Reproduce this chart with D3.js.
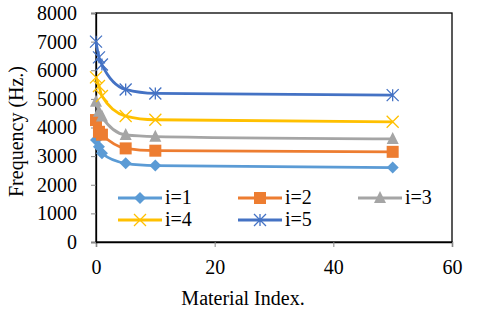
<!DOCTYPE html>
<html><head><meta charset="utf-8">
<script src="https://cdn.jsdelivr.net/npm/d3@7"></script>
<style>body{margin:0;background:#fff;} svg{display:block;} svg text{font-family:"Liberation Serif","Times New Roman",serif;font-size:20px;fill:#000;}</style>
</head><body>
<script>
const xValues = [0, 0.5, 1, 5, 10, 50];
const seriesNames = ["i=1", "i=2", "i=3", "i=4", "i=5"];
const i1 = [3560, 3330, 3100, 2750, 2670, 2600];
const i2 = [4260, 3850, 3750, 3270, 3190, 3150];
const i3 = [4900, 4550, 4380, 3740, 3680, 3600];
const i4 = [5750, 5450, 5100, 4400, 4270, 4200];
const i5 = [7000, 6450, 6200, 5330, 5190, 5130];
const xTicks = [0, 20, 40, 60];
const yTicks = [0, 1000, 2000, 3000, 4000, 5000, 6000, 7000, 8000];
const colors = ["#5B9BD5", "#ED7D31", "#A5A5A5", "#FFC000", "#4472C4"];
const markers = ["diamond", "square", "triangle", "x", "star"];
const allSeries = [i1, i2, i3, i4, i5];

const W = 480, H = 311;
const m = {left: 96, right: 28, top: 13, bottom: 69};
const svg = d3.select("body").append("svg").attr("width", W).attr("height", H);
const x = d3.scaleLinear().domain([0, 60]).range([m.left, W - m.right]);
const y = d3.scaleLinear().domain([0, 8000]).range([H - m.bottom, m.top]);

svg.append("rect").attr("x", x(0)).attr("y", y(8000)).attr("width", x(60) - x(0)).attr("height", y(0) - y(8000))
  .attr("fill", "none").attr("stroke", "#000").attr("stroke-width", 1.3);

const xAxis = svg.append("g").attr("transform", `translate(0,${y(0)})`)
  .call(d3.axisBottom(x).tickValues(xTicks).tickSize(5).tickPadding(13).tickFormat(d3.format("d")));
const yAxis = svg.append("g").attr("transform", `translate(${x(0)},0)`)
  .call(d3.axisLeft(y).tickValues(yTicks).tickSize(5).tickPadding(14).tickFormat(d3.format("d")));
[xAxis, yAxis].forEach(g => {
  g.attr("font-family", null).attr("font-size", null);
  g.select(".domain").attr("stroke", "#000").attr("stroke-width", 1.3);
  g.selectAll(".tick line").attr("stroke", "#888").attr("stroke-width", 1);
});

svg.append("text").attr("x", 243).attr("y", 305).attr("text-anchor", "middle").text("Material Index.");
svg.append("text").attr("transform", `translate(23,${(y(0) + y(8000)) / 2 + 4}) rotate(-90)`)
  .attr("text-anchor", "middle").text("Frequency (Hz.)");

function drawMarker(g, type, cx, cy, color) {
  const s = 6;
  if (type === "diamond") {
    g.append("path").attr("d", `M${cx},${cy - s} L${cx + s},${cy} L${cx},${cy + s} L${cx - s},${cy} Z`).attr("fill", color);
  } else if (type === "square") {
    g.append("rect").attr("x", cx - s).attr("y", cy - s).attr("width", 2 * s).attr("height", 2 * s).attr("fill", color);
  } else if (type === "triangle") {
    g.append("path").attr("d", `M${cx},${cy - s - 1} L${cx + s},${cy + s - 1} L${cx - s},${cy + s - 1} Z`).attr("fill", color);
  } else if (type === "x") {
    g.append("path").attr("d", `M${cx - s},${cy - s} L${cx + s},${cy + s} M${cx + s},${cy - s} L${cx - s},${cy + s}`)
      .attr("stroke", color).attr("stroke-width", 1.3).attr("fill", "none");
  } else if (type === "star") {
    g.append("path").attr("d", `M${cx - s},${cy - s} L${cx + s},${cy + s} M${cx + s},${cy - s} L${cx - s},${cy + s} M${cx},${cy - s} L${cx},${cy + s}`)
      .attr("stroke", color).attr("stroke-width", 1.3).attr("fill", "none");
  }
}

const line = d3.line().x(d => x(d[0])).y(d => y(d[1])).curve(d3.curveMonotoneX);
allSeries.forEach((vals, k) => {
  const pts = xValues.map((xv, j) => [xv, vals[j]]);
  const g = svg.append("g");
  g.append("path").attr("d", line(pts)).attr("fill", "none").attr("stroke", colors[k]).attr("stroke-width", 2.8);
  pts.forEach(p => drawMarker(g, markers[k], x(p[0]), y(p[1]), colors[k]));
});

const legPos = [[118, 198], [238, 198], [358, 198], [118, 220], [238, 220]];
seriesNames.forEach((name, k) => {
  const [lx, ly] = legPos[k];
  const g = svg.append("g");
  g.append("line").attr("x1", lx).attr("x2", lx + 44).attr("y1", ly).attr("y2", ly)
    .attr("stroke", colors[k]).attr("stroke-width", 2.8);
  drawMarker(g, markers[k], lx + 22, ly, colors[k]);
  g.append("text").attr("x", lx + 47).attr("y", ly + 6).text(name);
});
</script>
</body></html>
